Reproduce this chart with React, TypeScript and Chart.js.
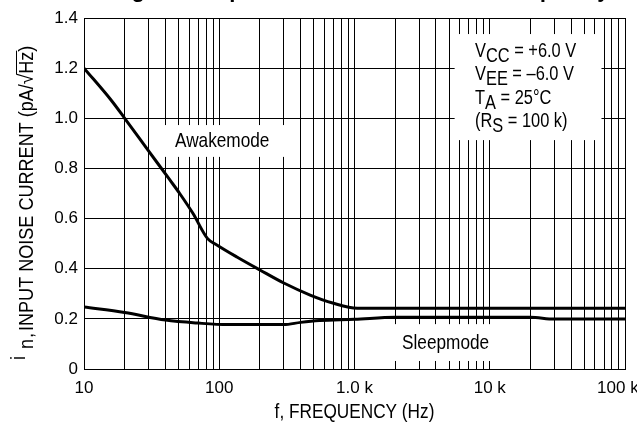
import React, { useEffect, useRef } from "react";
import { Chart, registerables } from "chart.js";

Chart.register(...registerables);

// ---- Data ----
const awakeFrequency = [10, 16, 20, 30, 43, 51, 64, 82, 96, 135, 200, 300, 470, 690, 1050, 2000, 10000, 100000];
const awakeNoise = [1.2, 1.07, 1.0, 0.87, 0.755, 0.7, 0.62, 0.52, 0.495, 0.447, 0.395, 0.343, 0.295, 0.263, 0.242, 0.242, 0.242, 0.242];

const sleepFrequency = [10, 20, 40, 70, 115, 300, 400, 550, 1000, 2000, 20000, 30000, 100000];
const sleepNoise = [0.247, 0.225, 0.195, 0.183, 0.177, 0.177, 0.186, 0.193, 0.198, 0.206, 0.206, 0.199, 0.199];

// grid (1-2-...-9 per decade) and labelled ticks
const xGridValues = [
  10, 20, 30, 40, 50, 60, 70, 80, 90,
  100, 200, 300, 400, 500, 600, 700, 800, 900,
  1000, 2000, 3000, 4000, 5000, 6000, 7000, 8000, 9000,
  10000, 20000, 30000, 40000, 50000, 60000, 70000, 80000, 90000,
  100000,
];
const xLabelValues = [10, 100, 1000, 10000, 100000];
const xLabelTexts = ["10", "100", "1.0 k", "10 k", "100 k   "];
const yTickValues = [0, 0.2, 0.4, 0.6, 0.8, 1.0, 1.2, 1.4];
const yTickTexts = ["0", "0.2", "0.4", "0.6", "0.8", "1.0", "1.2", "1.4"];

const titleText = "Figure 3. Input Noise Current versus Frequency";
const xTitle = "f, FREQUENCY (Hz)";
const yTitleMain = "INPUT NOISE CURRENT";
const awakeLabel = "Awakemode";
const sleepLabel = "Sleepmode";
const conditionLines: [string, string, string][] = [
  ["V", "CC", " = +6.0 V"],
  ["V", "EE", " = \u20136.0 V"],
  ["T", "A", " = 25\u00B0C"],
  ["(R", "S", " = 100 k)"],
];

const REG = "'Liberation Sans', Arial, sans-serif";
const NARROW_K = 0.82; // Helvetica-Narrow look: horizontally condensed Liberation Sans

function narrow(ctx: CanvasRenderingContext2D, text: string, x: number, y: number, k = NARROW_K) {
  ctx.save();
  ctx.translate(x, y);
  ctx.scale(k, 1);
  ctx.fillText(text, 0, 0);
  ctx.restore();
  return ctx.measureText(text).width * k;
}

const overlayPlugin = {
  id: "overlay",
  beforeDatasetsDraw(chart: any) {
    const ctx = chart.ctx as CanvasRenderingContext2D;
    const xs = chart.scales.x;
    const ys = chart.scales.y;
    const box = (f0: number, f1: number, v0: number, v1: number) => {
      const x0 = xs.getPixelForValue(f0);
      const x1 = xs.getPixelForValue(f1);
      const y0 = ys.getPixelForValue(v1);
      const y1 = ys.getPixelForValue(v0);
      ctx.fillRect(x0, y0, x1 - x0, y1 - y0);
    };
    ctx.save();
    ctx.fillStyle = "#ffffff";
    box(5500, 67000, 0.913, 1.336); // conditions box
    box(38.5, 316, 0.846, 0.973); // Awakemode label box
    box(1830, 10900, 0.032, 0.179); // Sleepmode label box
    ctx.restore();
  },
  afterDraw(chart: any) {
    const ctx = chart.ctx as CanvasRenderingContext2D;
    const area = chart.chartArea;
    ctx.save();
    ctx.fillStyle = "#000";
    ctx.strokeStyle = "#000";
    ctx.textAlign = "left";
    ctx.textBaseline = "alphabetic";

    // partially visible figure title at the very top
    ctx.font = `bold 22px ${REG}`;
    ctx.fillText(titleText, 112, -3);

    ctx.font = `21px ${REG}`;
    narrow(ctx, awakeLabel, 175, 147);
    narrow(ctx, sleepLabel, 402, 349);

    // x axis title
    const xtW = ctx.measureText(xTitle).width * NARROW_K;
    narrow(ctx, xTitle, (area.left + area.right) / 2 - xtW / 2, 418);

    // conditions
    ctx.font = `20px ${REG}`;
    const baselines = [57, 80, 104, 127];
    conditionLines.forEach((ln, i) => {
      let x = 475;
      const b = baselines[i];
      x += narrow(ctx, ln[0], x, b);
      x += narrow(ctx, ln[1], x, b + 5);
      narrow(ctx, ln[2], x, b);
    });

    // y axis title (rotated)
    const ky = 0.86;
    ctx.save();
    ctx.translate(33, 369);
    ctx.rotate(-Math.PI / 2);
    ctx.font = `21px ${REG}`;
    narrow(ctx, "i", 9, -8, ky);
    narrow(ctx, "n", 20, 0, ky);
    narrow(ctx, ",", 31, 0, ky);
    let cx = 38;
    cx += narrow(ctx, yTitleMain, cx, 0, ky);
    cx += narrow(ctx, " (pA/", cx, 0, ky);
    ctx.font = `20px ${REG}`;
    cx += narrow(ctx, "\u221A", cx, 0, 0.95);
    ctx.font = `21px ${REG}`;
    const hzW = narrow(ctx, "Hz", cx, 0, ky);
    ctx.lineWidth = 1;
    ctx.beginPath();
    ctx.moveTo(cx - 1, -16.5);
    ctx.lineTo(cx + hzW + 1, -16.5);
    ctx.stroke();
    cx += hzW;
    narrow(ctx, ")", cx, 0, ky);
    ctx.restore();

    ctx.restore();
  },
};

export default function App() {
  const ref = useRef<HTMLCanvasElement | null>(null);

  useEffect(() => {
    document.body.style.margin = "0";
    const canvas = ref.current;
    if (!canvas) return;
    const chart = new Chart(canvas, {
      type: "line",
      data: {
        datasets: [
          {
            label: awakeLabel,
            data: awakeFrequency.map((f, i) => ({ x: f, y: awakeNoise[i] })),
            borderColor: "#000",
            borderWidth: 3,
            pointRadius: 0,
            cubicInterpolationMode: "monotone",
            fill: false,
          },
          {
            label: sleepLabel,
            data: sleepFrequency.map((f, i) => ({ x: f, y: sleepNoise[i] })),
            borderColor: "#000",
            borderWidth: 3,
            pointRadius: 0,
            cubicInterpolationMode: "monotone",
            fill: false,
          },
        ],
      },
      options: {
        animation: false,
        responsive: true,
        maintainAspectRatio: false,
        layout: { padding: { top: 18, right: 12, left: 0, bottom: 0 } },
        plugins: {
          legend: { display: false },
          tooltip: { enabled: false },
          title: { display: false },
        },
        scales: {
          x: {
            type: "logarithmic",
            min: 10,
            max: 100000,
            afterBuildTicks: (scale: any) => {
              scale.ticks = xGridValues.map((v) => ({ value: v }));
            },
            afterFit: (scale: any) => {
              scale.height = 66;
              scale.paddingLeft = 0;
              scale.paddingRight = 0;
            },
            ticks: {
              autoSkip: false,
              maxRotation: 0,
              minRotation: 0,
              padding: 9,
              color: "#000",
              font: { family: REG, size: 17 },
              callback: (v: any) => {
                const idx = xLabelValues.indexOf(Number(v));
                return idx >= 0 ? xLabelTexts[idx] : "";
              },
            },
            grid: { color: "#000", lineWidth: 1, drawTicks: false },
            border: { color: "#000", width: 1 },
            title: { display: false, text: xTitle },
          },
          y: {
            type: "linear",
            min: 0,
            max: 1.4,
            afterBuildTicks: (scale: any) => {
              scale.ticks = yTickValues.map((v) => ({ value: v }));
            },
            afterFit: (scale: any) => {
              scale.width = 84;
              scale.paddingTop = 0;
              scale.paddingBottom = 0;
            },
            ticks: {
              padding: 6,
              color: "#000",
              font: { family: REG, size: 17 },
              callback: (v: any) => {
                const idx = yTickValues.findIndex((t) => Math.abs(t - Number(v)) < 1e-6);
                return idx >= 0 ? yTickTexts[idx] : "";
              },
            },
            grid: { color: "#000", lineWidth: 1, drawTicks: false },
            border: { color: "#000", width: 1 },
          },
        },
      },
      plugins: [overlayPlugin],
    });
    return () => chart.destroy();
  }, []);

  return (
    <div style={{ width: 637, height: 435, position: "relative" }}>
      <canvas ref={ref} />
    </div>
  );
}
